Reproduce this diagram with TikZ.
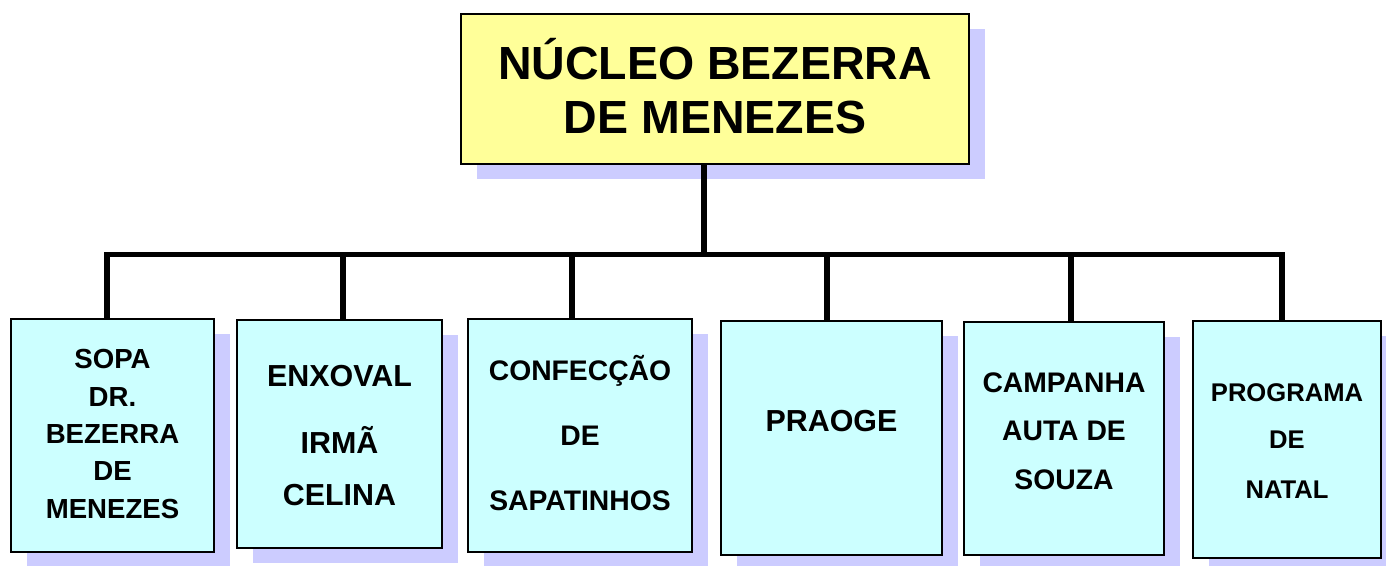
\documentclass[tikz,border=0pt]{standalone}
\usepackage{fontspec}
\setmainfont{Liberation Sans}
\usetikzlibrary{shadows}
\definecolor{topfill}{HTML}{FFFF99}
\definecolor{boxfill}{HTML}{CCFFFF}
\definecolor{shadowcol}{HTML}{CCCCFF}
\begin{document}
\begin{tikzpicture}[x=1pt,y=-1pt,
  shd/.style={drop shadow={shadow xshift=16pt,shadow yshift=-15pt,fill=shadowcol,opacity=1}},
  topbox/.style={draw=black,line width=2pt,fill=topfill,shd,rectangle,inner sep=0pt},
  subbox/.style={draw=black,line width=2pt,fill=boxfill,shd,rectangle,inner sep=0pt},
  lbl/.style={anchor=base,inner sep=0pt,font=\bfseries},
  ftop/.style={font=\bfseries\fontsize{46.5}{53}\selectfont},
  fa/.style={font=\bfseries\fontsize{27.6}{30}\selectfont},
  fb/.style={font=\bfseries\fontsize{30.4}{33}\selectfont},
  fc/.style={font=\bfseries\fontsize{28.3}{31}\selectfont},
  fd/.style={font=\bfseries\fontsize{25.6}{28}\selectfont},
  conn/.style={line width=5.5pt,draw=black}
]
\useasboundingbox (0,0) rectangle (1386,565);

% boxes
\node[topbox,minimum width=508pt,minimum height=150pt] (top) at (715,89) {};
\node[subbox,minimum width=203pt,minimum height=233pt] (b1) at (112.5,435.5) {};
\node[subbox,minimum width=205pt,minimum height=228pt] (b2) at (339.5,434) {};
\node[subbox,minimum width=224pt,minimum height=233pt] (b3) at (580,435.5) {};
\node[subbox,minimum width=221pt,minimum height=234pt] (b4) at (831.5,438) {};
\node[subbox,minimum width=200pt,minimum height=233pt] (b5) at (1064,438.5) {};
\node[subbox,minimum width=188pt,minimum height=237pt] (b6) at (1287,439.5) {};

% texts
\node[lbl,ftop] (tt1) at (715,79) {NÚCLEO BEZERRA};
\node[lbl,ftop] (tt2) at (715,133) {DE MENEZES};
\foreach \t/\yy [count=\i] in {SOPA/368,DR./406,BEZERRA/443,DE/480,MENEZES/518}
  \node[lbl,fa] (b1t\i) at (112.5,\yy) {\t};
\foreach \t/\yy [count=\i] in {ENXOVAL/386,IRMÃ/453,CELINA/505}
  \node[lbl,fb] (b2t\i) at (339.5,\yy) {\t};
\foreach \t/\yy [count=\i] in {CONFECÇÃO/380,DE/445,SAPATINHOS/510}
  \node[lbl,fc] (b3t\i) at (580,\yy) {\t};
\node[lbl,fb] (b4t1) at (831.5,431) {PRAOGE};
\foreach \t/\yy [count=\i] in {CAMPANHA/392,AUTA DE/440,SOUZA/489}
  \node[lbl,fc] (b5t\i) at (1064,\yy) {\t};
\foreach \t/\yy [count=\i] in {PROGRAMA/401,DE/448,NATAL/498}
  \node[lbl,fd] (b6t\i) at (1287,\yy) {\t};

% connectors
\coordinate (st) at (704,254.5);
\coordinate (s1) at (107,254.5);
\coordinate (s2) at (343,254.5);
\coordinate (s3) at (572,254.5);
\coordinate (s4) at (827,254.5);
\coordinate (s5) at (1071,254.5);
\coordinate (s6) at (1282,254.5);
\draw[conn] (s1 |- b1.north) -- (s1) -- (s6) -- (s6 |- b6.north);
\draw[conn] (st |- top.south) -- (st);
\draw[conn] (s2) -- (s2 |- b2.north);
\draw[conn] (s3) -- (s3 |- b3.north);
\draw[conn] (s4) -- (s4 |- b4.north);
\draw[conn] (s5) -- (s5 |- b5.north);
\end{tikzpicture}
\end{document}
